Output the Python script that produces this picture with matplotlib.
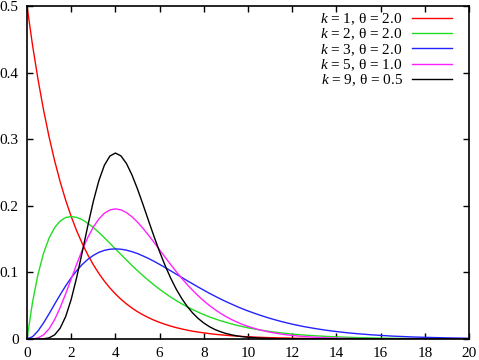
import matplotlib
matplotlib.use("Agg")
import matplotlib.pyplot as plt

plt.rcParams['font.family'] = ['Liberation Serif', 'DejaVu Serif']
plt.rcParams['mathtext.fontset'] = 'custom'
plt.rcParams['mathtext.rm'] = 'Liberation Serif'
plt.rcParams['mathtext.it'] = 'Liberation Serif:italic'

x = [0, 0.25, 0.5, 0.75, 1, 1.25, 1.5, 1.75, 2, 2.25, 2.5, 2.75, 3, 3.25, 3.5, 3.75,
     4, 4.25, 4.5, 4.75, 5, 5.25, 5.5, 5.75, 6, 6.25, 6.5, 6.75, 7, 7.25, 7.5, 7.75,
     8, 8.25, 8.5, 8.75, 9, 9.25, 9.5, 9.75, 10,
     10.5, 11, 11.5, 12, 12.5, 13, 13.5, 14, 14.5, 15, 15.5, 16, 16.5, 17, 17.5,
     18, 18.5, 19, 19.5, 20]

k1_t2 = [0.5, 0.4412, 0.3894, 0.3436, 0.3033, 0.2676, 0.2362, 0.2084, 0.1839, 0.1623,
         0.1433, 0.1264, 0.1116, 0.0985, 0.0869, 0.0767, 0.0677, 0.0597, 0.0527, 0.0465,
         0.0410, 0.0362, 0.0320, 0.0282, 0.0249, 0.0220, 0.0194, 0.0171, 0.0151, 0.0133,
         0.0117, 0.0104, 0.0092, 0.0081, 0.0071, 0.0063, 0.0056, 0.0049, 0.0043, 0.0038,
         0.0034, 0.0026, 0.0020, 0.0016, 0.0012, 0.0010, 0.0008, 0.0006, 0.0005, 0.0004,
         0.0003, 0.0002, 0.0002, 0.0001, 0.0001, 0.0001, 0.0001, 0.0000, 0.0000, 0.0000,
         0.0000]

k2_t2 = [0.0, 0.0552, 0.0974, 0.1289, 0.1516, 0.1673, 0.1771, 0.1824, 0.1839, 0.1826,
         0.1791, 0.1738, 0.1674, 0.1601, 0.1521, 0.1438, 0.1353, 0.1269, 0.1186, 0.1104,
         0.1026, 0.0950, 0.0879, 0.0811, 0.0747, 0.0687, 0.0630, 0.0577, 0.0528, 0.0483,
         0.0441, 0.0402, 0.0366, 0.0333, 0.0303, 0.0275, 0.0250, 0.0227, 0.0205, 0.0186,
         0.0168, 0.0138, 0.0112, 0.0092, 0.0074, 0.0060, 0.0049, 0.0040, 0.0032, 0.0026,
         0.0021, 0.0017, 0.0013, 0.0011, 0.0009, 0.0007, 0.0006, 0.0004, 0.0004, 0.0003,
         0.0002]

k3_t2 = [0.0, 0.0034, 0.0122, 0.0242, 0.0379, 0.0523, 0.0664, 0.0798, 0.0920, 0.1027,
         0.1119, 0.1195, 0.1255, 0.1301, 0.1331, 0.1348, 0.1353, 0.1348, 0.1334, 0.1311,
         0.1283, 0.1247, 0.1209, 0.1166, 0.1120, 0.1073, 0.1024, 0.0974, 0.0925, 0.0875,
         0.0827, 0.0779, 0.0733, 0.0687, 0.0644, 0.0602, 0.0562, 0.0525, 0.0488, 0.0453,
         0.0421, 0.0362, 0.0309, 0.0263, 0.0223, 0.0188, 0.0159, 0.0133, 0.0112, 0.0093,
         0.0078, 0.0065, 0.0054, 0.0044, 0.0037, 0.0030, 0.0025, 0.0021, 0.0017, 0.0014,
         0.0011]

k5_t1 = [0.0, 0.0001, 0.0016, 0.0062, 0.0153, 0.0291, 0.0471, 0.0679, 0.0902, 0.1126,
         0.1336, 0.1523, 0.1680, 0.1802, 0.1888, 0.1938, 0.1954, 0.1939, 0.1898, 0.1835,
         0.1755, 0.1661, 0.1558, 0.1450, 0.1339, 0.1227, 0.1118, 0.1013, 0.0912, 0.0817,
         0.0729, 0.0647, 0.0572, 0.0504, 0.0443, 0.0387, 0.0337, 0.0293, 0.0254, 0.0219,
         0.0189, 0.0139, 0.0102, 0.0074, 0.0053, 0.0038, 0.0027, 0.0019, 0.0013, 0.0009,
         0.0006, 0.0004, 0.0003, 0.0002, 0.0001, 0.0001, 0.0001, 0.0000, 0.0000, 0.0000,
         0.0000]

k9_t05 = [0.0, 0.0000, 0.0000, 0.0003, 0.0017, 0.0062, 0.0162, 0.0337, 0.0595, 0.0927,
          0.1306, 0.1697, 0.2065, 0.2376, 0.2608, 0.2747, 0.2792, 0.2750, 0.2635, 0.2463,
          0.2252, 0.2018, 0.1776, 0.1537, 0.1310, 0.1102, 0.0915, 0.0750, 0.0609, 0.0489,
          0.0389, 0.0307, 0.0240, 0.0186, 0.0143, 0.0110, 0.0083, 0.0063, 0.0047, 0.0035,
          0.0026, 0.0014, 0.0008, 0.0004, 0.0002, 0.0001, 0.0001, 0.0000, 0.0000, 0.0000,
          0.0000, 0.0000, 0.0000, 0.0000, 0.0000, 0.0000, 0.0000, 0.0000, 0.0000, 0.0000,
          0.0000]

series = [k1_t2, k2_t2, k3_t2, k5_t1, k9_t05]
labels = [r'$k$ = 1, θ = 2.0', r'$k$ = 2, θ = 2.0', r'$k$ = 3, θ = 2.0',
          r'$k$ = 5, θ = 1.0', r'$k$ = 9, θ = 0.5']
colors = ['#ff0000', '#22dd22', '#2222ff', '#ff22ff', '#000000']

xticks = [0, 2, 4, 6, 8, 10, 12, 14, 16, 18, 20]
yticks = [0, 0.1, 0.2, 0.3, 0.4, 0.5]
ytick_labels = ['0', '0.1', '0.2', '0.3', '0.4', '0.5']

fig = plt.figure(figsize=(4.79, 3.60), dpi=100)
ax = fig.add_axes([27 / 479, 21 / 360, 442 / 479, 333 / 360])

for ys, lab, c in zip(series, labels, colors):
    ax.plot(x, ys, color=c, lw=1.0, label=lab)

ax.set_xlim(0, 20)
ax.set_ylim(0, 0.5)
ax.set_xticks(xticks)
ax.set_xticklabels([str(t) for t in xticks])
ax.set_yticks(yticks)
ax.set_yticklabels(ytick_labels)
ax.tick_params(direction='in', length=4, width=1, top=True, right=True,
               labelsize=11, pad=6)
for s in ax.spines.values():
    s.set_linewidth(1.2)

leg = ax.legend(loc='upper right', markerfirst=False, frameon=False,
                fontsize=11, handlelength=2.6, handletextpad=0.6,
                labelspacing=-0.03, borderaxespad=0.3,
                bbox_to_anchor=(0.985, 1.015))

fig.savefig('out.png', dpi=100)
